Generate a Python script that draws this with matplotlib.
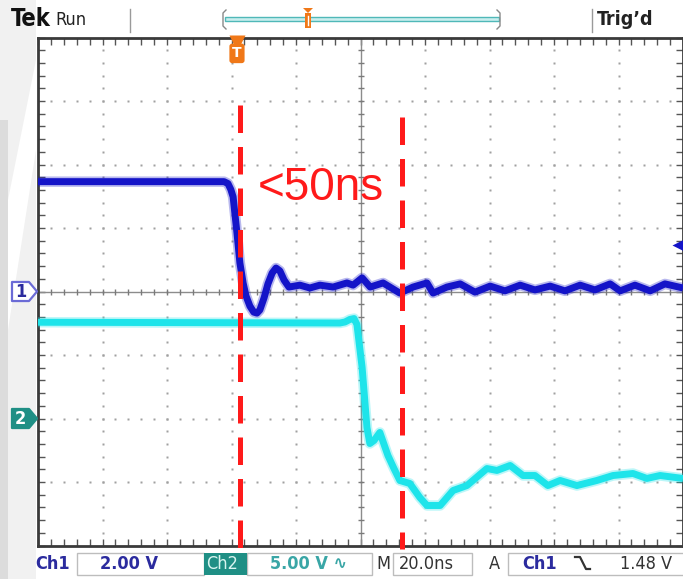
import numpy as np
import matplotlib
matplotlib.use("Agg")
import matplotlib.pyplot as plt
import matplotlib.transforms as mtransforms
from matplotlib.patches import Rectangle, Polygon

# Scope settings
time_per_div = 20.0      # ns
ch1_volts_per_div = 2.0
ch2_volts_per_div = 5.0
ch1_offset_div = 0.0
ch2_offset_div = -2.0
trigger_level = 1.48     # V on Ch1
trigger_time = 61.7      # ns from left edge of screen

# Ch1 trace (ns, V)
ch1_t = [0, 57.7, 58.9, 59.8, 60.5, 61.7, 62.6, 63.6, 64.5, 65.7, 66.9, 67.9, 68.8,
         70.1, 71.3, 72.6, 73.8, 75.0, 76.3, 77.8,
         81.2, 84.3, 87.4, 91.5, 95.8, 97.7, 100.5, 103.0, 107.0, 112.2, 116.3,
         120.6, 122.5, 126.8, 130.9, 135.5, 140.2, 144.8, 149.5, 154.1, 158.8,
         163.4, 168.1, 172.7, 177.4, 180.5, 185.1, 189.8, 194.4, 200]
ch1_v = [3.46, 3.46, 3.40, 3.21, 2.98, 1.84, 0.90, 0.27, -0.14, -0.46, -0.65, -0.68, -0.58,
         -0.20, 0.24, 0.58, 0.74, 0.65, 0.36, 0.14,
         0.20, 0.11, 0.20, 0.14, 0.27, 0.20, 0.43, 0.14, 0.27, -0.05, 0.14,
         0.27, -0.05, 0.14, 0.24, -0.02, 0.17, 0.02, 0.20, 0.05, 0.17,
         0.02, 0.20, 0.05, 0.24, 0.02, 0.20, 0.02, 0.24, 0.11]

# Ch2 trace (ns, V)
ch2_t = [0, 93.6, 95.2, 96.7, 98.0, 98.9, 100.5, 102.0, 102.9, 104.2, 106.0, 108.5,
         110.3, 112.2, 115.3, 118.4, 120.6, 124.7, 128.7, 133.0, 139.2, 142.3, 146.4,
         150.4, 154.1, 158.1, 161.9, 167.1, 173.3, 178.3, 184.5, 188.8, 192.9, 200]
ch2_v = [7.58, 7.52, 7.60, 7.80, 7.87, 7.40, 4.02, -0.71, -1.97, -1.73, -1.10, -2.91,
         -3.90, -4.88, -5.12, -6.22, -6.85, -6.85, -5.67, -5.28, -3.94, -4.09, -3.70,
         -4.49, -4.49, -5.28, -4.88, -5.28, -4.88, -4.49, -4.33, -4.72, -4.49, -4.72]

# Red cursor lines and label
cursor_times = [62.6, 112.9]
cursor_tops = [2.94, 2.75]     # divisions
label_text = "<50ns"

# Bottom readout
ch1_scale = "2.00 V"
ch2_scale = "5.00 V \u223f"
time_scale = "20.0ns"
trig_readout = "1.48 V"

W, H = 683, 579
fig = plt.figure(figsize=(W / 100, H / 100), dpi=100)
fig.patch.set_facecolor("white")

# graticule axes
ax = fig.add_axes([38 / W, (H - 545.5) / H, 645 / W, 508 / H])
ax.set_xlim(0, 10 * time_per_div)
ax.set_ylim(-4, 4)
ax.set_facecolor("white")
for s in ax.spines.values():
    s.set_color("#3a3a3a")
    s.set_linewidth(2)
ax.set_xticks(np.arange(0, 200.1, time_per_div / 5))
ax.set_yticks(np.arange(-4, 4.01, 0.2))
ax.tick_params(direction="in", length=5, width=1, color="#555555",
               top=True, right=True, labelbottom=False, labelleft=False)

dot_col = "#a0a0a0"
ys = np.arange(-4, 4.01, 0.2)
ts = np.arange(0, 200.1, time_per_div / 5)
for t in np.arange(time_per_div, 200, time_per_div):
    if t == 100:
        continue
    ax.plot(np.full_like(ys, t), ys, ls="none", marker="s", ms=1.5, color=dot_col, mec="none")
for y in range(-3, 4):
    if y == 0:
        continue
    ax.plot(ts, np.full_like(ts, y), ls="none", marker="s", ms=1.5, color=dot_col, mec="none")

# center cross with ticks
ax.axhline(0, color="#8c8c8c", lw=1)
ax.axvline(100, color="#8c8c8c", lw=1)
ax.plot(ts, np.zeros_like(ts), ls="none", marker="|", ms=5, mew=1, color="#7a7a7a")
ax.plot(np.full_like(ys, 100), ys, ls="none", marker="_", ms=5, mew=1, color="#7a7a7a")

# traces
ch1_y = np.array(ch1_v) / ch1_volts_per_div + ch1_offset_div
ch2_y = np.array(ch2_v) / ch2_volts_per_div + ch2_offset_div
ch1_col = "#1414c8"
ch2_col = "#1ee4ea"
for y_tr, t_tr, col in [(ch1_y, ch1_t, ch1_col), (ch2_y, ch2_t, ch2_col)]:
    ax.plot(t_tr, y_tr, color=col, lw=7.5, alpha=0.3, solid_joinstyle="round",
            solid_capstyle="butt", zorder=3)
    ax.plot(t_tr, y_tr, color=col, lw=5, solid_joinstyle="round",
            solid_capstyle="butt", zorder=3)

# cursors
red = "#ff1a1a"
for t, top in zip(cursor_times, cursor_tops):
    ax.plot([t, t], [top, -4.05], color=red, lw=3.6, dashes=(5.5, 2.8),
            dash_capstyle="butt", zorder=5, clip_on=False)
ax.text(68.0, 1.44, label_text, color=red, fontsize=33, family="Liberation Sans",
        va="baseline", zorder=6)

# trigger markers
orange = "#f07818"
ax.plot(trigger_time, 3.92, marker="v", ms=12, color=orange, mec="none", clip_on=False, zorder=6)
ax.text(trigger_time, 3.75, "T", color="white", weight="bold", fontsize=10,
        ha="center", va="center", zorder=7,
        bbox=dict(boxstyle="round,pad=0.2", fc=orange, ec="none"))
ax.plot(198.4, trigger_level / ch1_volts_per_div + ch1_offset_div, marker="<", ms=8,
        color=ch1_col, mec="none", clip_on=False, zorder=6)

# overlay for screen furniture
ov = fig.add_axes([0, 0, 1, 1], zorder=5)
ov.set_xlim(0, W)
ov.set_ylim(H, 0)
ov.axis("off")
ov.patch.set_alpha(0)

ov.add_patch(Rectangle((0, 0), 36, H, fc="#f1f1f1", ec="none", zorder=0))
ov.add_patch(Polygon([(8, 330), (36, 150), (36, 60), (8, 200)], fc="white", ec="none", zorder=0))
ov.add_patch(Rectangle((0, 120), 8, H - 120, fc="#dcdcdc", ec="none", zorder=0))

cond = dict(family="DejaVu Sans", fontstretch="condensed")
ov.text(11, 26, "Tek", fontsize=17, weight="bold", color="#111111", va="baseline", **cond)
ov.text(55, 25, "Run", fontsize=13, color="#222222", va="baseline", **cond)
ov.text(597, 25, "Trig\u2019d", fontsize=14, weight="bold", color="#222222", va="baseline", **cond)
ov.plot([130, 130], [9, 32], color="#9a9a9a", lw=1)
ov.plot([592, 592], [9, 32], color="#9a9a9a", lw=1)

# record bracket
ov.add_patch(Rectangle((225, 16.5), 274, 4, fc="#c9eeee", ec="#50b8b8", lw=1))
ov.plot([226, 223, 223, 226], [10, 13, 26, 29], color="#888888", lw=1)
ov.plot([497, 500, 500, 497], [10, 13, 26, 29], color="#888888", lw=1)
ov.add_patch(Polygon([(303, 8), (313, 8), (308, 13)], fc=orange, ec="none"))
ov.add_patch(Rectangle((305, 13), 6, 15, fc=orange, ec="none"))
ov.plot([308, 308], [16, 25], color="white", lw=1)

# channel markers on left
blend = mtransforms.blended_transform_factory(ov.transData, ax.transData)
for off, label, fc, ec, tc in [(ch1_offset_div, "1", "white", "#6b6bd6", "#2b2b9e"),
                               (ch2_offset_div, "2", "#1f8f85", "#1f8f85", "white")]:
    h = 0.15
    ov.add_patch(Polygon([(12, off + h), (29, off + h), (37, off), (29, off - h), (12, off - h)],
                         closed=True, fc=fc, ec=ec, lw=1.6, joinstyle="round", transform=blend))
    ov.text(20.5, off, label, transform=blend, fontsize=13, weight="bold", color=tc,
            ha="center", va="center", **cond)

# bottom readout bar
box_ec = "#bdbdbd"
for x0, x1 in [(77, 204), (247, 372), (393, 472), (508, 690)]:
    ov.add_patch(Rectangle((x0, 553), x1 - x0, 22, fc="white", ec=box_ec, lw=1))
ov.add_patch(Rectangle((204, 553), 43, 22, fc="#1f8f85", ec="none"))
blue_txt = "#2b2b9e"
teal_txt = "#3aa6a6"
ov.text(35, 569, "Ch1", fontsize=13, weight="bold", color=blue_txt, va="baseline", **cond)
ov.text(100, 569, ch1_scale, fontsize=13, weight="bold", color=blue_txt, va="baseline", **cond)
ov.text(206, 569, "Ch2", fontsize=13, color="#d8f5f0", va="baseline", **cond)
ov.text(270, 569, ch2_scale, fontsize=13, weight="bold", color=teal_txt, va="baseline", **cond)
ov.text(376, 569, "M", fontsize=13, color="#333333", va="baseline", **cond)
ov.text(399, 569, time_scale, fontsize=13, color="#333333", va="baseline", **cond)
ov.text(489, 569, "A", fontsize=13, color="#333333", va="baseline", **cond)
ov.text(522, 569, "Ch1", fontsize=13, weight="bold", color=blue_txt, va="baseline", **cond)
ov.plot([575, 580, 586, 590], [557, 557, 569, 569], color="#333333", lw=1.6)
ov.text(620, 569, trig_readout, fontsize=13, color="#333333", va="baseline", **cond)

fig.savefig("out.png", dpi=100)
